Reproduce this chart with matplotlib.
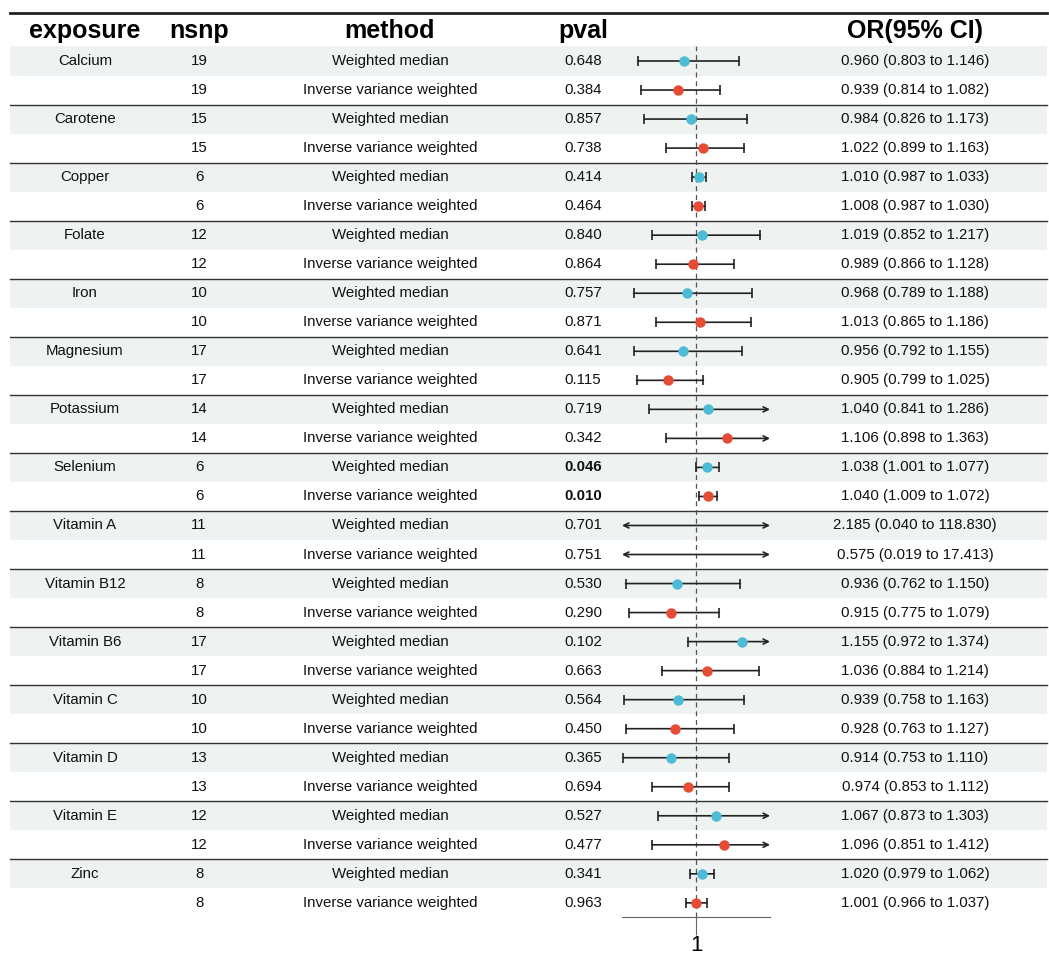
import matplotlib
matplotlib.use("Agg")
import matplotlib.pyplot as plt
import numpy as np

plt.rcParams['font.family'] = ['Liberation Sans', 'DejaVu Sans']

# ── data ──────────────────────────────────────────────────────────────────────
exposures = ["Calcium", "Carotene", "Copper", "Folate", "Iron", "Magnesium",
             "Potassium", "Selenium", "Vitamin A", "Vitamin B12", "Vitamin B6",
             "Vitamin C", "Vitamin D", "Vitamin E", "Zinc"]
nsnp = [19, 15, 6, 12, 10, 17, 14, 6, 11, 8, 17, 10, 13, 12, 8]
methods = ["Weighted median", "Inverse variance weighted"]

pval_wm  = [0.648, 0.857, 0.414, 0.840, 0.757, 0.641, 0.719, 0.046, 0.701, 0.530, 0.102, 0.564, 0.365, 0.527, 0.341]
or_wm    = [0.960, 0.984, 1.010, 1.019, 0.968, 0.956, 1.040, 1.038, 2.185, 0.936, 1.155, 0.939, 0.914, 1.067, 1.020]
lo_wm    = [0.803, 0.826, 0.987, 0.852, 0.789, 0.792, 0.841, 1.001, 0.040, 0.762, 0.972, 0.758, 0.753, 0.873, 0.979]
hi_wm    = [1.146, 1.173, 1.033, 1.217, 1.188, 1.155, 1.286, 1.077, 118.830, 1.150, 1.374, 1.163, 1.110, 1.303, 1.062]

pval_ivw = [0.384, 0.738, 0.464, 0.864, 0.871, 0.115, 0.342, 0.010, 0.751, 0.290, 0.663, 0.450, 0.694, 0.477, 0.963]
or_ivw   = [0.939, 1.022, 1.008, 0.989, 1.013, 0.905, 1.106, 1.040, 0.575, 0.915, 1.036, 0.928, 0.974, 1.096, 1.001]
lo_ivw   = [0.814, 0.899, 0.987, 0.866, 0.865, 0.799, 0.898, 1.009, 0.019, 0.775, 0.884, 0.763, 0.853, 0.851, 0.966]
hi_ivw   = [1.082, 1.163, 1.030, 1.128, 1.186, 1.025, 1.363, 1.072, 17.413, 1.079, 1.214, 1.127, 1.112, 1.412, 1.037]

XLIM = (0.75, 1.25)
COL_WM, COL_IVW = "#4DBBD5", "#E64B35"

# interleave rows: WM then IVW per exposure
rows = []
for i, e in enumerate(exposures):
    rows.append((e, nsnp[i], methods[0], pval_wm[i], or_wm[i], lo_wm[i], hi_wm[i], COL_WM))
    rows.append(("", nsnp[i], methods[1], pval_ivw[i], or_ivw[i], lo_ivw[i], hi_ivw[i], COL_IVW))
n = len(rows)

# ── layout (pixels) ───────────────────────────────────────────────────────────
W, H = 1049, 956
Y0, RH = 61.0, 29.03          # first row centre, row height
X_L, X_R = 10, 1047
FX0, FX1 = 622, 770           # forest column
col_x = {"exposure": 85, "nsnp": 199, "method": 390, "pval": 583, "or": 915}

fig = plt.figure(figsize=(W / 100, H / 100), dpi=100)
ax = fig.add_axes([0, 0, 1, 1])
ax.set_xlim(0, W); ax.set_ylim(H, 0); ax.axis("off")

# shading for first row of each group + separators
for g in range(len(exposures)):
    top = Y0 - RH / 2 + 2 * g * RH
    ax.fill_between([X_L, X_R], top, top + RH, color="#eef2f1", lw=0, zorder=0)
    if g > 0:
        ax.plot([X_L, X_R], [top, top], color="#333333", lw=1.0, zorder=1)
ax.plot([X_L, X_R], [13, 13], color="#222222", lw=2.0)

# header
hy = 31
for key, lab in [("exposure", "exposure"), ("nsnp", "nsnp"), ("method", "method"),
                 ("pval", "pval"), ("or", "OR(95% CI)")]:
    ax.text(col_x[key], hy, lab, ha="center", va="center", fontsize=18, fontweight="bold")

# body text
for i, (e, ns, m, p, o, lo, hi, c) in enumerate(rows):
    y = Y0 + i * RH
    kw = dict(ha="center", va="center", fontsize=10.8, color="#111111")
    ax.text(col_x["exposure"], y, e, **kw)
    ax.text(col_x["nsnp"], y, str(ns), **kw)
    ax.text(col_x["method"], y, m, **kw)
    ax.text(col_x["pval"], y, f"{p:.3f}", fontweight="bold" if p < 0.05 else "normal", **kw)
    ax.text(col_x["or"], y, f"{o:.3f} ({lo:.3f} to {hi:.3f})", **kw)

# ── forest column ─────────────────────────────────────────────────────────────
top_px = Y0 - RH / 2
bot_px = Y0 + (n - 0.5) * RH
fa = fig.add_axes([FX0 / W, 1 - bot_px / H, (FX1 - FX0) / W, (bot_px - top_px) / H])
fa.set_facecolor("none")
fa.set_xlim(*XLIM); fa.set_ylim(n - 0.5, -0.5)
for s in ["top", "left", "right"]:
    fa.spines[s].set_visible(False)
fa.spines["bottom"].set_color("#666666"); fa.spines["bottom"].set_linewidth(0.8)
fa.set_yticks([])
fa.set_xticks([1]); fa.set_xticklabels(["1"], fontsize=16)
fa.tick_params(axis="x", length=13, width=0.8, color="#666666", pad=0)
fa.axvline(1, color="#555555", lw=0.9, ls=(0, (4, 3)), zorder=1)

for i, (e, ns, m, p, o, lo, hi, c) in enumerate(rows):
    l_clip, r_clip = lo < XLIM[0], hi > XLIM[1]
    a, b = max(lo, XLIM[0]), min(hi, XLIM[1])
    style = {(False, False): "-", (False, True): "->",
             (True, False): "<-", (True, True): "<->"}[(l_clip, r_clip)]
    fa.annotate("", xy=(b, i), xytext=(a, i), annotation_clip=False,
                arrowprops=dict(arrowstyle=style, color="#222222", lw=1.2,
                                shrinkA=0, shrinkB=0, mutation_scale=9), zorder=2)
    caps = [x for x, clip in ((a, l_clip), (b, r_clip)) if not clip]
    if caps:
        fa.plot(caps, [i] * len(caps), ls="none", marker="|", ms=7, mew=1.2,
                color="#222222", zorder=2)
    if XLIM[0] <= o <= XLIM[1]:
        fa.plot([o], [i], "o", ms=7.5, color=c, mec="none", zorder=3)

fig.savefig("out.png", dpi=100)
